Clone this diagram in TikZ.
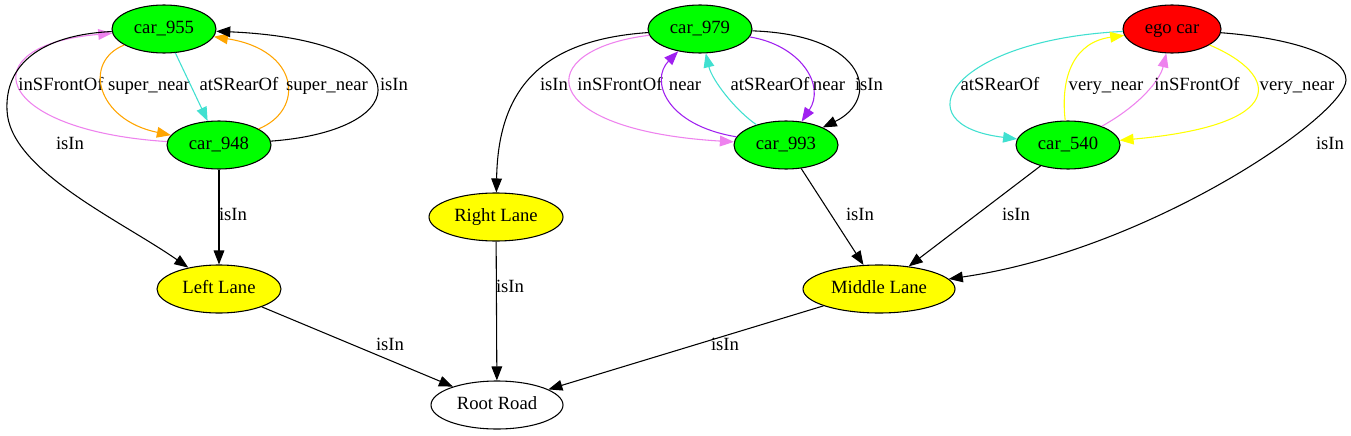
\documentclass[tikz,border=0pt]{standalone}
\usepackage{fontspec}
\setmainfont{Liberation Serif}
\usetikzlibrary{shapes.geometric,arrows.meta}
\definecolor{gvgreen}{HTML}{00FF00}
\definecolor{gvred}{HTML}{FF0000}
\definecolor{gvyellow}{HTML}{FFFF00}
\definecolor{gvviolet}{HTML}{EE82EE}
\definecolor{gvorange}{HTML}{FFA500}
\definecolor{gvturq}{HTML}{40E0D0}
\definecolor{gvpurple}{HTML}{A020F0}
\begin{document}
\begin{tikzpicture}[x=0.75pt,y=-0.75pt,
  every node/.style={font=\fontsize{14}{16}\selectfont, text height=9.5pt, text depth=3pt},
  gnode/.style={ellipse, draw=black, line width=0.8pt, inner sep=0pt, minimum height=36pt},
  carnode/.style={gnode, fill=gvgreen, minimum width=78pt},
  egonode/.style={gnode, fill=gvred, minimum width=73.5pt},
  lanenode/.style={gnode, fill=gvyellow},
  roadnode/.style={gnode, fill=white, minimum width=99pt},
  conn/.style={draw, line width=0.8pt, -{Triangle[length=10.5pt,width=8pt]}},
  lbl/.style={inner sep=0pt, text=black}]
\useasboundingbox (0,0) rectangle (1351,435);
\fill[white] (0,0) rectangle (1351,435);

% nodes
\node[carnode] (c955) at (164,29) {car\_955};
\node[carnode] (c948) at (219,145) {car\_948};
\node[lanenode, minimum width=93pt] (leftlane) at (219,289) {Left Lane};
\node[lanenode, minimum width=100.5pt] (rightlane) at (496,217) {Right Lane};
\node[roadnode] (root) at (497,405) {Root Road};
\node[carnode] (c979) at (700,29) {car\_979};
\node[carnode] (c993) at (786,145) {car\_993};
\node[lanenode, minimum width=114pt] (midlane) at (879,289) {Middle Lane};
\node[egonode] (ego) at (1172,29) {ego car};
\node[carnode] (c540) at (1068,145) {car\_540};

% left cluster
\draw[conn, gvviolet] (c948) .. controls (-10,130) and (-30,45) .. (c955)
  node[lbl] (l1) at (61,86) {inSFrontOf};
\draw[conn, gvorange] (c955) .. controls (82,62) and (97,120) .. (c948)
  node[lbl] (l2) at (149,86) {super\_near};
\draw[conn, gvturq] (c955) -- (c948)
  node[lbl] (l3) at (239,86) {atSRearOf};
\draw[conn, gvorange] (c948) .. controls (305,110) and (300,50) .. (c955)
  node[lbl] (l4) at (327,86) {super\_near};
\draw[conn] (c948) .. controls (420,130) and (420,40) .. (c955)
  node[lbl] (l5) at (394,86) {isIn};
\draw[conn] (c955) .. controls (40,35) and (5,65) .. (7,110) .. controls (9,170) and (120,220) .. (leftlane)
  node[lbl] (l6) at (70,145) {isIn};
\draw[conn] (c948) -- (leftlane)
  node[lbl] (l7) at (233,216) {isIn};
\draw[conn] (leftlane) -- (root)
  node[lbl] (l8) at (390,346) {isIn};

% middle cluster
\draw[conn] (c979) .. controls (540,40) and (498,90) .. (rightlane)
  node[lbl] (l9) at (554,86) {isIn};
\draw[conn, gvviolet] (c979) .. controls (530,50) and (535,130) .. (c993)
  node[lbl] (l10) at (620,86) {inSFrontOf};
\draw[conn, gvpurple] (c993) .. controls (665,125) and (650,80) .. (c979)
  node[lbl] (l11) at (685,86) {near};
\draw[conn, gvturq] (c993) .. controls (735,110) and (712,80) .. (c979)
  node[lbl] (l12) at (770,86) {atSRearOf};
\draw[conn, gvpurple] (c979) .. controls (800,45) and (826,85) .. (c993)
  node[lbl] (l13) at (829,86) {near};
\draw[conn] (c979) .. controls (870,35) and (880,100) .. (c993)
  node[lbl] (l14) at (869,86) {isIn};
\draw[conn] (c993) -- (midlane)
  node[lbl] (l15) at (860,216) {isIn};
\draw[conn] (rightlane) -- (root)
  node[lbl] (l16) at (510,288) {isIn};
\draw[conn] (midlane) -- (root)
  node[lbl] (l17) at (725,346) {isIn};

% right cluster
\draw[conn, gvturq] (ego) .. controls (950,40) and (900,125) .. (c540)
  node[lbl] (l18) at (1000,86) {atSRearOf};
\draw[conn, gvyellow] (c540) .. controls (1060,75) and (1075,42) .. (ego)
  node[lbl] (l19) at (1106,86) {very\_near};
\draw[conn, gvviolet] (c540) .. controls (1140,105) and (1160,80) .. (ego)
  node[lbl] (l20) at (1197,86) {inSFrontOf};
\draw[conn, gvyellow] (ego) .. controls (1280,75) and (1290,125) .. (c540)
  node[lbl] (l21) at (1297,86) {very\_near};
\draw[conn] (ego) .. controls (1290,38) and (1346,55) .. (1346,80) .. controls (1346,115) and (1150,250) .. (midlane)
  node[lbl] (l22) at (1330,145) {isIn};
\draw[conn] (c540) -- (midlane)
  node[lbl] (l23) at (1016,216) {isIn};
\end{tikzpicture}
\end{document}
